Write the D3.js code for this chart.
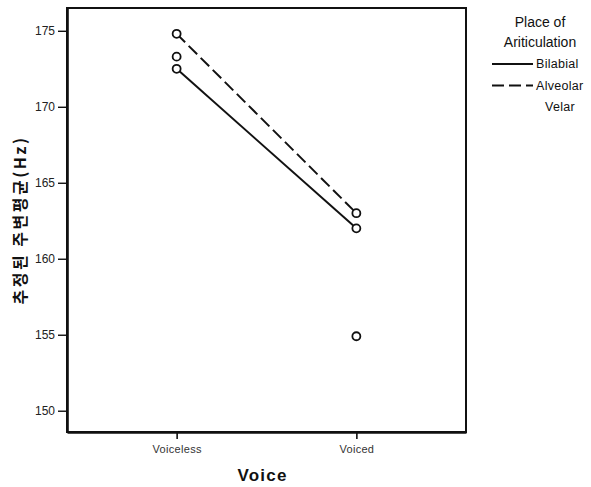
<!DOCTYPE html>
<html>
<head>
<meta charset="utf-8">
<script src="https://cdn.jsdelivr.net/npm/d3@7"></script>
<style>
  html, body { margin: 0; padding: 0; background: #fff; }
  svg { display: block; font-family: "Liberation Sans", Arial, sans-serif; }
</style>
</head>
<body>
<svg id="chart" width="591" height="487"></svg>
<script>
// Estimated marginal means of F0 by voicing and place of articulation
const voiceCategories = ["Voiceless", "Voiced"];
const places = ["Bilabial", "Alveolar", "Velar"];
const bilabialMeans = [172.5, 162.0];
const alveolarMeans = [174.8, 163.0];
const velarMeans = [173.3, 154.9];
const yTicks = [150, 155, 160, 165, 170, 175];

const series = [
  { name: places[0], values: bilabialMeans, dash: null, line: true },
  { name: places[1], values: alveolarMeans, dash: "12,5", line: true },
  { name: places[2], values: velarMeans, dash: null, line: false }
];

const svg = d3.select("#chart");
const frame = { left: 67, right: 466, top: 8, bottom: 432 };

const x = d3.scalePoint()
  .domain(voiceCategories)
  .range([frame.left, frame.right])
  .padding(0.61);

const y = d3.scaleLinear()
  .domain([148.6, 176.5])
  .range([frame.bottom, frame.top]);

// plot frame
svg.append("rect")
  .attr("x", frame.left).attr("y", frame.top)
  .attr("width", frame.right - frame.left)
  .attr("height", frame.bottom - frame.top)
  .attr("fill", "none").attr("stroke", "#111").attr("stroke-width", 2);

// y axis
const yAxis = svg.append("g")
  .attr("transform", `translate(${frame.left},0)`)
  .call(d3.axisLeft(y).tickValues(yTicks).tickSize(9).tickSizeOuter(0)
    .tickPadding(3).tickFormat(d3.format("d")));
yAxis.select(".domain").attr("stroke", "#111").attr("stroke-width", 2.6);
yAxis.selectAll(".tick line").attr("stroke", "#111").attr("stroke-width", 1.4);
yAxis.selectAll(".tick text")
  .attr("font-size", 12).attr("fill", "#222")
  .attr("font-family", "'Liberation Sans', Arial, sans-serif");

// x axis
const xAxis = svg.append("g")
  .attr("transform", `translate(0,${frame.bottom})`)
  .call(d3.axisBottom(x).tickSize(7).tickSizeOuter(0).tickPadding(6));
xAxis.select(".domain").attr("stroke", "#111").attr("stroke-width", 2.6);
xAxis.selectAll(".tick line").attr("stroke", "#111").attr("stroke-width", 1.6);
xAxis.selectAll(".tick text")
  .attr("font-size", 11).attr("fill", "#333").attr("letter-spacing", 0.3)
  .attr("font-family", "'Liberation Sans', Arial, sans-serif");

// axis titles
svg.append("text")
  .attr("x", (frame.left + frame.right) / 2 - 4)
  .attr("y", 481)
  .attr("text-anchor", "middle")
  .attr("font-size", 17).attr("font-weight", "bold").attr("letter-spacing", 1.2)
  .attr("fill", "#111")
  .text("Voice");

svg.append("text")
  .attr("transform", `translate(26,${(frame.top + frame.bottom) / 2}) rotate(-90)`)
  .attr("text-anchor", "middle")
  .attr("font-family", "'Noto Sans CJK KR', sans-serif")
  .attr("font-size", 16).attr("font-weight", "bold").attr("letter-spacing", 2.5)
  .attr("fill", "#111")
  .text("추정된 주변평균(Hz)");

// lines
const line = d3.line()
  .x((d, i) => x(voiceCategories[i]))
  .y(d => y(d));

svg.append("g").selectAll("path")
  .data(series.filter(s => s.line))
  .join("path")
  .attr("d", s => line(s.values))
  .attr("fill", "none")
  .attr("stroke", "#111")
  .attr("stroke-width", 2)
  .attr("stroke-dasharray", s => s.dash);

// markers
svg.append("g").selectAll("g")
  .data(series)
  .join("g")
  .selectAll("circle")
  .data(s => s.values)
  .join("circle")
  .attr("cx", (d, i) => x(voiceCategories[i]))
  .attr("cy", d => y(d))
  .attr("r", 4)
  .attr("fill", "#fff")
  .attr("stroke", "#111")
  .attr("stroke-width", 1.8);

// legend
const legend = svg.append("g");
legend.append("text")
  .attr("x", 540).attr("y", 27)
  .attr("text-anchor", "middle").attr("font-size", 14).attr("fill", "#111")
  .text("Place of");
legend.append("text")
  .attr("x", 540).attr("y", 47)
  .attr("text-anchor", "middle").attr("font-size", 14).attr("fill", "#111")
  .text("Ariticulation");

const items = legend.selectAll("g.item")
  .data(series)
  .join("g")
  .attr("class", "item")
  .attr("transform", (d, i) => `translate(0,${64 + i * 21.5})`);

items.filter(d => d.line).append("line")
  .attr("x1", 492).attr("x2", 533)
  .attr("y1", 0).attr("y2", 0)
  .attr("stroke", "#111").attr("stroke-width", 2)
  .attr("stroke-dasharray", d => d.dash);

items.append("text")
  .attr("x", d => d.line ? 536 : 545)
  .attr("y", 4)
  .attr("font-size", 12.5).attr("fill", "#111").attr("letter-spacing", 0.3)
  .text(d => d.name);
</script>
</body>
</html>
